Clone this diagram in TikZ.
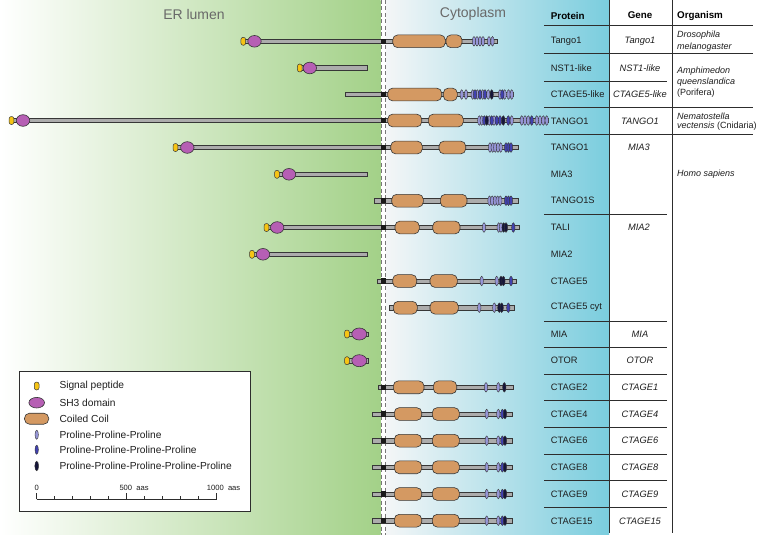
\documentclass[tikz,border=0pt]{standalone}
\usepackage{fontspec}
\setmainfont{Liberation Sans}
\begin{document}
\definecolor{ergreen}{RGB}{163,209,136}
\definecolor{cytblue}{RGB}{122,205,222}
\definecolor{cytwhite}{RGB}{244,246,247}
\definecolor{bbgray}{RGB}{172,172,172}
\definecolor{outl}{RGB}{55,55,55}
\definecolor{ccfill}{RGB}{212,153,98}
\definecolor{shfill}{RGB}{182,95,180}
\definecolor{spfill}{RGB}{246,196,20}
\definecolor{pppc}{RGB}{150,150,215}
\definecolor{ppppc}{RGB}{65,65,175}
\definecolor{pppppc}{RGB}{22,22,58}
\definecolor{labgray}{RGB}{105,105,105}
\definecolor{txtc}{RGB}{30,30,30}
\definecolor{rulec}{RGB}{45,45,45}
\definecolor{memc}{RGB}{120,120,120}
\tikzset{
 bbs/.style={fill=bbgray, draw=outl, line width=0.6pt},
 ccs/.style={fill=ccfill, draw=outl, line width=0.6pt, rounded corners=5pt},
 shs/.style={fill=shfill, draw=outl, line width=0.6pt},
 sps/.style={fill=spfill, draw=outl, line width=0.5pt, rounded corners=2.3pt},
 prs/.style={draw=outl, line width=0.4pt},
 tmc/.style={fill=black!90},
 tabtxt/.style={anchor=west, inner sep=0pt, text=txtc, font=\fontsize{9.3}{11}\selectfont},
 gentxt/.style={anchor=center, inner sep=0pt, text=txtc, font=\fontsize{9.3}{11}\selectfont\itshape},
 orgtxt/.style={anchor=west, inner sep=0pt, text=txtc, font=\fontsize{9}{11}\selectfont},
 headtxt/.style={inner sep=0pt, text=black, font=\fontsize{9.8}{11}\selectfont\bfseries},
 legtxt/.style={anchor=west, inner sep=0pt, text=txtc, font=\fontsize{10.2}{12}\selectfont},
 sctxt/.style={inner sep=0pt, text=txtc, font=\fontsize{7.6}{9}\selectfont},
 regtxt/.style={inner sep=0pt, text=labgray, font=\fontsize{14}{16}\selectfont},
 rulel/.style={draw=rulec, line width=0.8pt},
 memline/.style={draw=memc, line width=0.8pt, dash pattern=on 4pt off 2.5pt}
}
\newcommand\rsBar[3]{\draw[bbs] (#2,#1-2.2) rectangle (#3,#1+2.2);}
\newcommand\rsTm[1]{\fill[tmc] (380.7,#1-2.6) rectangle (385.7,#1+2.6);}
\newcommand\rsCc[3]{\draw[ccs] (#2,#1-6.4) rectangle (#3,#1+6.4);}
\newcommand\rsSh[2]{\draw[shs] (#2,#1) ellipse (6.7 and 5.8);}
\newcommand\rsSp[2]{\draw[sps] (#2-2.4,#1-4) rectangle (#2+2.4,#1+4);}
\newcommand\rsPro[3]{\draw[prs, fill=#3] (#2,#1) ellipse (1.7 and 4.8);}
\begin{tikzpicture}[x=1pt,y=-1pt]
\useasboundingbox (0,0) rectangle (760,535);
% backgrounds
\fill[white] (0,0) rectangle (760,535);
\shade[left color=white, right color=ergreen] (0,0) rectangle (380.7,535);
\shade[left color=cytwhite, right color=cytblue] (386,0) rectangle (609,535);
% membrane
\draw[memline] (380.9,0) -- (380.9,535);
\draw[memline] (385.5,0) -- (385.5,535);
% region labels
\node[regtxt] (er) at (194,14) {ER lumen};
\node[regtxt] (cyt) at (473,14) {Cytoplasm};

% ---- Row 1 Tango1
\rsBar{41.3}{243}{497}
\rsTm{41.3}
\rsCc{41.3}{392.7}{445.3}
\rsCc{41.3}{446}{462}
\foreach \x in {474,477,480,483,489,492.5} {\rsPro{41.3}{\x}{pppc}}
\rsSh{41.3}{254.5}
\rsSp{41.3}{243.3}

% ---- Row 2 NST1-like
\rsBar{68}{300}{367.5}
\rsSh{68}{309.8}
\rsSp{68}{299.8}

% ---- Row 3 CTAGE5-like
\rsBar{94.5}{345.7}{513}
\rsTm{94.5}
\rsCc{94.5}{387.7}{441.7}
\rsCc{94.5}{443.3}{457.3}
\foreach \x in {461.7,466,472.7,477.3,482.7,488.3,500,504.7,508.5,511.7} {\rsPro{94.5}{\x}{pppc}}
\foreach \x in {475,480,485,502.3} {\rsPro{94.5}{\x}{ppppc}}
\rsPro{94.5}{491.7}{pppppc}

% ---- Row 4 TANGO1 (Nematostella)
\rsBar{120.5}{12}{548}
\rsTm{120.5}
\rsCc{120.5}{387.7}{421.7}
\rsCc{120.5}{428.3}{463.3}
\foreach \x in {479.3,481.7,489.3,494,511.7,521.7,525,528.3,536.7,540,543.3,546.7} {\rsPro{120.5}{\x}{pppc}}
\foreach \x in {484.3,491.7,496.7,500,508.3,531.7} {\rsPro{120.5}{\x}{ppppc}}
\foreach \x in {486.7,503.3} {\rsPro{120.5}{\x}{pppppc}}
\rsSh{120.5}{23}
\rsSp{120.5}{11.5}

% ---- Row 5 TANGO1 (human)
\rsBar{147.5}{176}{518.3}
\rsTm{147.5}
\rsCc{147.5}{390.7}{422.3}
\rsCc{147.5}{439}{465.7}
\foreach \x in {490,492.7,495.3,498,500.7} {\rsPro{147.5}{\x}{pppc}}
\foreach \x in {506,508.5,511} {\rsPro{147.5}{\x}{ppppc}}
\rsSh{147.5}{187.3}
\rsSp{147.5}{175.5}

% ---- Row 6 MIA3
\rsBar{174.3}{277}{367.7}
\rsSh{174.3}{289}
\rsSp{174.3}{277}

% ---- Row 7 TANGO1S
\rsBar{200.7}{374}{518.3}
\rsTm{200.7}
\rsCc{200.7}{391.7}{423.3}
\rsCc{200.7}{440.3}{467}
\foreach \x in {489.5,492.2,494.9,497.6,500.3} {\rsPro{200.7}{\x}{pppc}}
\foreach \x in {506,508.5,511} {\rsPro{200.7}{\x}{ppppc}}

% ---- Row 8 TALI
\rsBar{227.5}{267}{519.3}
\rsTm{227.5}
\rsCc{227.5}{395}{419.3}
\rsCc{227.5}{432.7}{460}
\foreach \x in {484,498.7,501} {\rsPro{227.5}{\x}{pppc}}
\foreach \x in {503.6,506} {\rsPro{227.5}{\x}{pppppc}}
\rsPro{227.5}{513.3}{ppppc}
\rsSh{227.5}{277.2}
\rsSp{227.5}{266.5}

% ---- Row 9 MIA2
\rsBar{254.3}{252}{367.7}
\rsSh{254.3}{263}
\rsSp{254.3}{252}

% ---- Row 10 CTAGE5
\rsBar{281}{377.7}{516.7}
\rsTm{281}
\rsCc{281}{392.7}{416.7}
\rsCc{281}{430}{457.3}
\foreach \x in {481.7,496.7} {\rsPro{281}{\x}{pppc}}
\foreach \x in {501,503.4} {\rsPro{281}{\x}{pppppc}}
\rsPro{281}{511}{ppppc}

% ---- Row 11 CTAGE5 cyt
\rsBar{307.7}{389.3}{514.3}
\rsCc{307.7}{393.3}{417.3}
\rsCc{307.7}{430}{458.3}
\foreach \x in {479.3,494.3} {\rsPro{307.7}{\x}{pppc}}
\foreach \x in {499.3,501.7} {\rsPro{307.7}{\x}{pppppc}}
\rsPro{307.7}{508.3}{ppppc}

% ---- Row 12 MIA
\rsBar{334}{347}{368}
\draw[shs] (359.3,334) ellipse (7.5 and 6);
\rsSp{334}{347}

% ---- Row 13 OTOR
\rsBar{360.7}{347}{368}
\draw[shs] (359.3,360.7) ellipse (7.5 and 6);
\rsSp{360.7}{347}

% ---- Row 14 CTAGE2
\rsBar{387.3}{378.3}{513.3}
\rsTm{387.3}
\rsCc{387.3}{393.3}{424}
\rsCc{387.3}{433.3}{456.7}
\foreach \x in {486,498.3} {\rsPro{387.3}{\x}{pppc}}
\rsPro{387.3}{504.3}{pppppc}

% ---- Rows 15-19 CTAGE4/6/8/9/15
\foreach \yy in {414,440.7,467.3,494,520.7} {
  \rsBar{\yy}{372.7}{512.7}
  \rsTm{\yy}
  \rsCc{\yy}{394.3}{421.7}
  \rsCc{\yy}{432.3}{459.3}
  \rsPro{\yy}{486.7}{pppc}
  \rsPro{\yy}{498.3}{pppc}
  \rsPro{\yy}{502.4}{ppppc}
  \rsPro{\yy}{505}{pppppc}
}

% ---- Table rules
\draw[rulel] (609,0) -- (609,533);
\draw[rulel] (672,0) -- (672,533);
\foreach \yy in {25,53.5,107.5,134.7} {\draw[rulel] (544,\yy) -- (753,\yy);}
\foreach \yy in {81,214,321,347.7,374.3,400.7,427.3,454,480.7,507.3} {\draw[rulel] (544,\yy) -- (667,\yy);}

% ---- Header
\node[headtxt, anchor=west] (hprot) at (550.7,15.5) {Protein};
\node[headtxt] (hgene) at (640,15.5) {Gene};
\node[headtxt, anchor=west] (horg) at (677,15.5) {Organism};

% ---- Protein names
\node[tabtxt] (p1) at (550.7,41.3) {Tango1};
\node[tabtxt] (p2) at (550.7,68) {NST1-like};
\node[tabtxt] (p3) at (550.7,94.5) {CTAGE5-like};
\node[tabtxt] (p4) at (550.7,121) {TANGO1};
\node[tabtxt] (p5) at (550.7,147.5) {TANGO1};
\node[tabtxt] (p6) at (550.7,174.3) {MIA3};
\node[tabtxt] (p7) at (550.7,200.7) {TANGO1S};
\node[tabtxt] (p8) at (550.7,227.5) {TALI};
\node[tabtxt] (p9) at (550.7,254.3) {MIA2};
\node[tabtxt] (p10) at (550.7,281) {CTAGE5};
\node[tabtxt] (p11) at (550.7,307.7) {CTAGE5 cyt};
\node[tabtxt] (p12) at (550.7,334) {MIA};
\node[tabtxt] (p13) at (550.7,360.7) {OTOR};
\node[tabtxt] (p14) at (550.7,387.3) {CTAGE2};
\node[tabtxt] (p15) at (550.7,414) {CTAGE4};
\node[tabtxt] (p16) at (550.7,440.7) {CTAGE6};
\node[tabtxt] (p17) at (550.7,467.3) {CTAGE8};
\node[tabtxt] (p18) at (550.7,494) {CTAGE9};
\node[tabtxt] (p19) at (550.7,521) {CTAGE15};

% ---- Gene names
\node[gentxt] (g1) at (640,41.3) {Tango1};
\node[gentxt] (g2) at (640,68) {NST1-like};
\node[gentxt] (g3) at (640,94.5) {CTAGE5-like};
\node[gentxt] (g4) at (640,121) {TANGO1};
\node[gentxt] (g5) at (639,147.5) {MIA3};
\node[gentxt] (g8) at (639,227.5) {MIA2};
\node[gentxt] (g12) at (640,334) {MIA};
\node[gentxt] (g13) at (640,360.7) {OTOR};
\node[gentxt] (g14) at (640,387.3) {CTAGE1};
\node[gentxt] (g15) at (640,414) {CTAGE4};
\node[gentxt] (g16) at (640,440.7) {CTAGE6};
\node[gentxt] (g17) at (640,467.3) {CTAGE8};
\node[gentxt] (g18) at (640,494) {CTAGE9};
\node[gentxt] (g19) at (640,521) {CTAGE15};

% ---- Organisms
\node[orgtxt] (o1a) at (677,35) {\itshape Drosophila};
\node[orgtxt] (o1b) at (677,46.7) {\itshape melanogaster};
\node[orgtxt] (o2a) at (677,70.7) {\itshape Amphimedon};
\node[orgtxt] (o2b) at (677,81.7) {\itshape queenslandica};
\node[orgtxt] (o2c) at (677,92.7) {(Porifera)};
\node[orgtxt] (o3a) at (677,116) {\itshape Nematostella};
\node[orgtxt] (o3b) at (677,126.5) {\itshape vectensis\upshape\ (Cnidaria)};
\node[orgtxt] (o4) at (677,174.3) {\itshape Homo sapiens};

% ---- Legend
\draw[fill=white, draw=rulec, line width=0.7pt] (19.3,371.7) rectangle (250.7,511.7);
\draw[sps] (34.3,382) rectangle (39.1,390);
\draw[shs] (36.7,402.7) ellipse (7.8 and 5.3);
\draw[ccs] (24.5,413.2) rectangle (48.7,424.2);
\draw[prs, fill=pppc] (36.7,434.7) ellipse (1.7 and 4.6);
\draw[prs, fill=ppppc] (36.7,449.7) ellipse (1.7 and 4.6);
\draw[prs, fill=pppppc] (36.7,466) ellipse (1.9 and 4.8);
\node[legtxt] (l1) at (59.3,386) {Signal peptide};
\node[legtxt] (l2) at (59.3,402.7) {SH3 domain};
\node[legtxt] (l3) at (59.3,418.7) {Coiled Coil};
\node[legtxt] (l4) at (59.3,434.7) {Proline-Proline-Proline};
\node[legtxt] (l5) at (59.3,449.7) {Proline-Proline-Proline-Proline};
\node[legtxt] (l6) at (59.3,466) {Proline-Proline-Proline-Proline-Proline};
% scale bar
\draw[rulec, line width=0.7pt] (36.7,499.3) -- (216.7,499.3);
\foreach \k in {0,5,10} {\draw[rulec, line width=0.7pt] (36.7+18*\k,499.3) -- (36.7+18*\k,493);}
\foreach \k in {1,2,3,4,6,7,8,9} {\draw[rulec, line width=0.6pt] (36.7+18*\k,499.3) -- (36.7+18*\k,496.3);}
\node[sctxt] (s0) at (36.7,487.5) {0};
\node[sctxt, anchor=west] (s500) at (119.3,487.5) {500\ \ aas};
\node[sctxt, anchor=west] (s1000) at (206.7,487.5) {1000\ \ aas};
\end{tikzpicture}
\end{document}
